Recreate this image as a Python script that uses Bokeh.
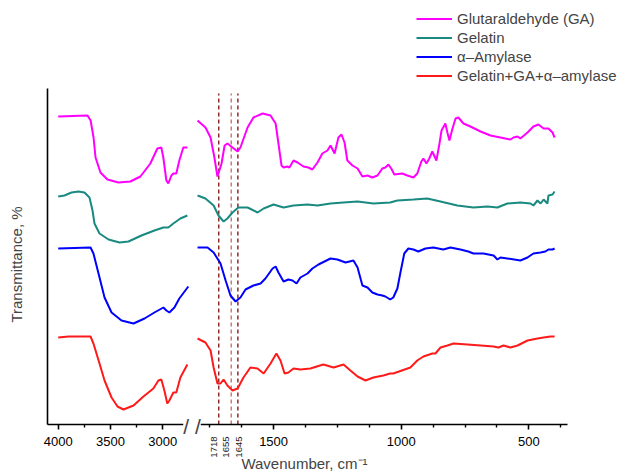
import numpy as np
from bokeh.plotting import figure
from bokeh.models import (Range1d, FixedTicker, CustomJSTickFormatter, Legend,
                          LegendItem, Label, ColumnDataSource)
from bokeh.embed import file_html
from bokeh.resources import INLINE

# ---------------- data: wavenumber (cm-1) / offset transmittance (arb. units) -------------
SERIES_NAMES = ["Glutaraldehyde (GA)", "Gelatin", "\u03b1\u2013Amylase", "Gelatin+GA+\u03b1\u2013amylase"]
SERIES_COLORS = ["#FF00FF", "#1A8A80", "#0000FF", "#FF1A1A"]

GA_HI_WN = [4000, 3720, 3690, 3662, 3643, 3596, 3529, 3424, 3310, 3214, 3119, 3052, 3014, 2995,
            2966, 2947, 2918, 2899, 2871, 2842, 2804, 2765]
GA_HI_T = [308, 309, 304, 287, 267, 252, 245, 242, 243, 248, 261, 276, 277, 267,
           244, 241, 249, 251, 251, 264, 277, 277]
GA_LO_WN = [1798, 1767, 1747, 1732, 1720, 1704, 1692, 1681, 1661, 1641, 1630, 1602, 1579, 1543, 1512,
            1492, 1481, 1469, 1461, 1446, 1438, 1422, 1406, 1383, 1364, 1348, 1328, 1309, 1289, 1277,
            1261, 1246, 1234, 1222, 1211, 1191, 1171, 1152, 1132, 1113, 1093, 1074, 1062, 1050, 1039,
            1027, 996, 976, 952, 937, 921, 913, 901, 890, 878, 862, 850, 842, 827, 819,
            811, 799, 787, 776, 756, 729, 689, 650, 611, 572, 560, 544, 533, 505, 482,
            462, 442, 423, 407, 399]
GA_LO_T = [304, 297, 287, 267, 248, 261, 279, 281, 277, 273, 277, 297, 307, 311, 309,
           301, 281, 259, 257, 258, 257, 264, 262, 258, 257, 255, 262, 271, 274, 279,
           271, 287, 290, 282, 264, 259, 256, 248, 249, 247, 249, 256, 257, 260, 256,
           250, 251, 249, 247, 251, 263, 266, 261, 266, 273, 264, 281, 294, 301, 292,
           284, 296, 306, 307, 301, 298, 293, 289, 287, 285, 287, 288, 286, 292, 298,
           300, 296, 296, 292, 287]

GEL_HI_WN = [4000, 3940, 3873, 3806, 3749, 3701, 3672, 3653, 3605, 3519, 3414, 3328, 3204, 3080,
             2995, 2947, 2899, 2832, 2765]
GEL_HI_T = [228, 229, 232, 233, 232, 227, 214, 201, 191, 185, 182, 183, 189, 194,
            197, 197, 201, 206, 209]
GEL_LO_WN = [1798, 1767, 1735, 1716, 1696, 1681, 1661, 1638, 1602, 1563, 1539, 1500, 1461, 1422, 1367,
             1328, 1277, 1226, 1171, 1109, 1043, 1015, 952, 898, 846, 780, 717, 662, 623, 584,
             533, 493, 482, 466, 454, 442, 427, 423, 407, 399]
GEL_LO_T = [229, 226, 219, 209, 203, 206, 212, 217, 217, 212, 216, 220, 217, 219, 220,
            219, 221, 222, 223, 221, 222, 224, 225, 226, 223, 219, 217, 218, 217, 221,
            222, 221, 219, 224, 221, 225, 221, 229, 230, 233]

AMY_HI_WN = [4000, 3691, 3663, 3605, 3557, 3490, 3395, 3280, 3175, 3080, 2994, 2966, 2937, 2889,
             2842, 2756]
AMY_HI_T = [176, 177, 171, 147, 127, 112, 104, 101, 106, 112, 117, 114, 112, 117, 126, 138]
AMY_LO_WN = [1798, 1759, 1735, 1708, 1688, 1669, 1649, 1630, 1610, 1579, 1551, 1532, 1504, 1492, 1481,
             1461, 1442, 1426, 1410, 1395, 1367, 1348, 1324, 1277, 1250, 1218, 1187, 1171, 1152, 1132,
             1113, 1093, 1074, 1062, 1043, 1031, 1015, 1003, 988, 972, 952, 933, 905, 874, 835,
             807, 768, 737, 717, 678, 638, 623, 611, 584, 533, 505, 482, 454, 435, 423, 407, 399]
AMY_LO_T = [177, 177, 172, 161, 144, 129, 123, 127, 135, 139, 141, 146, 156, 158, 152,
            143, 145, 144, 141, 147, 151, 156, 160, 166, 165, 162, 164, 157, 139, 137,
            132, 130, 129, 128, 125, 127, 136, 152, 171, 176, 175, 173, 176, 177, 175,
            177, 175, 173, 171, 171, 169, 165, 167, 166, 164, 167, 171, 172, 173, 175, 175, 176]

MIX_HI_WN = [4000, 3900, 3691, 3663, 3605, 3557, 3490, 3433, 3376, 3280, 3185, 3090, 3042, 3014,
             2985, 2957, 2937, 2899, 2871, 2832, 2765]
MIX_HI_T = [87, 88, 88, 81, 61, 44, 27, 18, 15, 19, 28, 36, 44, 45, 34, 21, 24, 32, 32, 47, 60]
MIX_LO_WN = [1798, 1767, 1747, 1735, 1720, 1708, 1696, 1681, 1661, 1641, 1618, 1591, 1563, 1539, 1512,
             1489, 1473, 1457, 1442, 1422, 1395, 1356, 1305, 1265, 1226, 1199, 1171, 1140, 1109, 1070,
             1043, 1031, 964, 937, 913, 878, 866, 846, 819, 795, 740, 689, 638, 619, 599,
             572, 544, 505, 466, 442, 415, 399]
MIX_LO_T = [86, 82, 74, 57, 41, 41, 45, 39, 34, 36, 47, 57, 56, 51, 61,
            71, 64, 51, 52, 56, 55, 56, 60, 57, 60, 54, 48, 44, 47, 49,
            51, 51, 57, 64, 68, 71, 71, 77, 79, 81, 80, 79, 78, 77, 79,
            77, 79, 84, 86, 87, 88, 88]

MAJOR_TICKS = [4000, 3500, 3000, 1500, 1000, 500]
MINOR_TICKS = [3750, 3250, 1750, 1625, 1375, 1250, 1125, 875, 750, 625, 375]

MARK_WN = [1715, 1666, 1640]          # where the dashed guides are drawn
MARK_LABELS = ["1718", "1655", "1645"]
MARK_COLORS = ["#8E2B2B", "#C47F7F", "#8E2B2B"]

# ---------------- broken wavenumber axis: two linear segments ----------------
HI_REF, HI_POS, HI_SCALE = 4000.0, 57.7, 0.1046
LO_REF, LO_POS, LO_SCALE = 1500.0, 273.1, 0.2552
BREAK_WN = 2200.0
BREAK_U = 191.5
AXIS_U0, AXIS_U1 = 47.0, 567.0       # extent of the x axis line
Y_TOP = 336.0                        # extent of the y axis line


def to_u(w):
    w = np.asarray(w, dtype=float)
    return np.where(w > BREAK_WN, HI_POS + (HI_REF - w) * HI_SCALE,
                    LO_POS + (LO_REF - w) * LO_SCALE)


FONT = "Liberation Sans"

p = figure(width=622, height=472, output_backend="svg", toolbar_location=None,
           x_range=Range1d(0, 622), y_range=Range1d(-48, 424),
           min_border_left=0, min_border_right=0, min_border_top=0, min_border_bottom=0)
p.outline_line_color = None
p.xgrid.visible = False
p.ygrid.visible = False

series = [
    (GA_HI_WN, GA_HI_T, GA_LO_WN, GA_LO_T),
    (GEL_HI_WN, GEL_HI_T, GEL_LO_WN, GEL_LO_T),
    (AMY_HI_WN, AMY_HI_T, AMY_LO_WN, AMY_LO_T),
    (MIX_HI_WN, MIX_HI_T, MIX_LO_WN, MIX_LO_T),
]

mark_src = ColumnDataSource(dict(x=to_u(MARK_WN), c=MARK_COLORS))
p.segment(x0="x", y0=0, x1="x", y1=331, source=mark_src, line_color="c",
          line_dash="4 3", line_width=1.5)

items = []
for (hw, ht, lw, lt), name, col in zip(series, SERIES_NAMES, SERIES_COLORS):
    r1 = p.line(to_u(hw), ht, line_color=col, line_width=2)
    p.line(to_u(lw), lt, line_color=col, line_width=2)
    items.append(LegendItem(label=name, renderers=[r1]))

legend = Legend(items=items, location=(416, 387), orientation="vertical",
                glyph_width=36, glyph_height=19, label_height=19, spacing=0,
                padding=0, margin=0, label_standoff=5,
                label_text_font=FONT, label_text_font_size="15px",
                border_line_color=None, background_fill_alpha=0)
p.add_layout(legend, "center")

# x axis, drawn at y = 0 inside the canvas
xa = p.xaxis[0]
xa.fixed_location = 0
xa.bounds = (AXIS_U0, AXIS_U1)
xa.ticker = FixedTicker(ticks=list(to_u(MAJOR_TICKS)), minor_ticks=list(to_u(MINOR_TICKS)))
xa.formatter = CustomJSTickFormatter(
    args=dict(brk=BREAK_U, hr=HI_REF, hp=HI_POS, hs=HI_SCALE, lr=LO_REF, lp=LO_POS, ls=LO_SCALE),
    code="""
    const w = tick < brk ? hr - (tick - hp) / hs : lr - (tick - lp) / ls;
    return String(Math.round(w / 50) * 50);
""")
xa.axis_line_width = 1.6
xa.major_tick_line_width = 1.6
xa.minor_tick_line_width = 1.4
xa.major_tick_out = 5
xa.major_tick_in = 0
xa.minor_tick_out = 3
xa.minor_tick_in = 0
xa.major_label_standoff = 7
xa.major_label_text_font = FONT
xa.major_label_text_font_size = "13px"
xa.major_label_text_color = "black"

# y axis (no ticks), drawn at the left end of the x axis
ya = p.yaxis[0]
ya.fixed_location = AXIS_U0
ya.bounds = (0, Y_TOP)
ya.ticker = FixedTicker(ticks=[])
ya.axis_line_width = 1.6
ya.major_tick_line_color = None
ya.minor_tick_line_color = None
ya.major_label_text_font_size = "0px"

for wn, lab, off in zip(MARK_WN, MARK_LABELS, [-5, -5, 1.5]):
    p.add_layout(Label(x=float(to_u(wn)), y=-12, text=lab, angle=np.pi / 2,
                       text_align="right", text_baseline="middle", x_offset=off,
                       text_font=FONT, text_font_size="9.5px", text_color="#222222"))

p.add_layout(Label(x=BREAK_U, y=0, y_offset=-2, text="/ /", text_align="center",
                   text_baseline="middle", text_font=FONT, text_font_size="21px",
                   background_fill_color="white"))

p.add_layout(Label(x=16, y=160, text="Transmittance, %", angle=np.pi / 2,
                   text_align="center", text_baseline="middle",
                   text_font=FONT, text_font_size="15px"))
p.add_layout(Label(x=304, y=-30, text="Wavenumber, cm\u207b\u00b9",
                   text_align="center", text_baseline="top",
                   text_font=FONT, text_font_size="15px"))

open("out.html", "w").write(file_html(p, INLINE))
